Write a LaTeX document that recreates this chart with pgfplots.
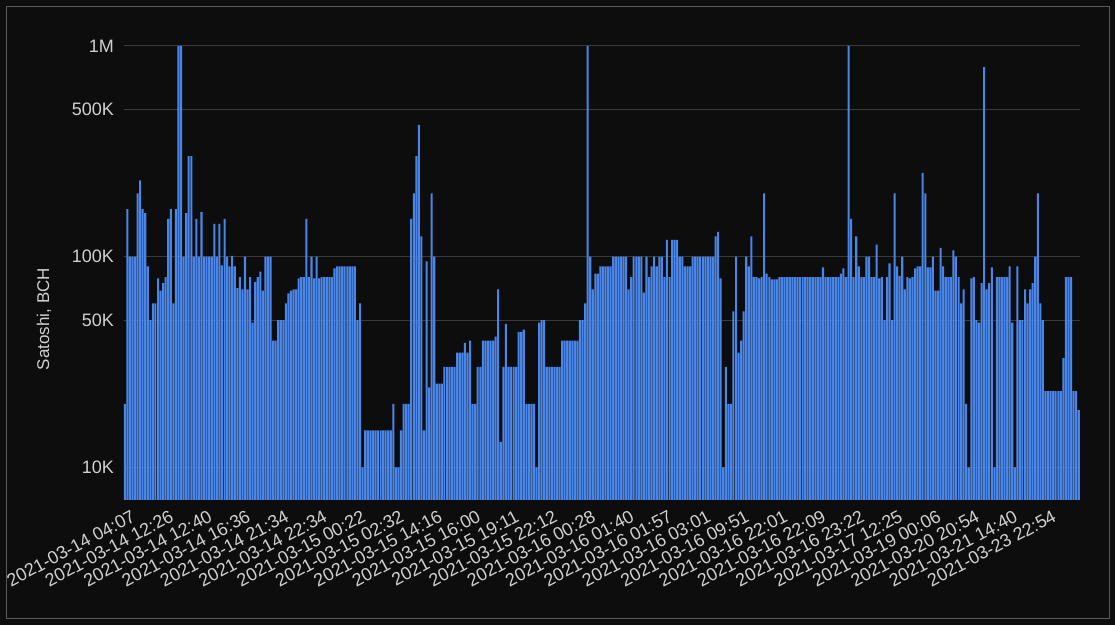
\documentclass[border=0pt]{standalone}
\usepackage{fontspec}
\setmainfont{Liberation Sans}
\usepackage{pgfplots}
\usepackage{pgfplotstable}
\pgfplotsset{compat=1.18}
\definecolor{bg}{HTML}{0D0D0D}
\definecolor{framec}{HTML}{5A5A5A}
\definecolor{gridc}{HTML}{3A3A3A}
\definecolor{txt}{HTML}{D0D0D0}
\definecolor{barc}{HTML}{4A86E8}

% values in thousands of satoshi, one per bar
\pgfplotstableread{
v
20
168
100
100
100
200
230
168
161
90
50
60
60
79
69
75
80
151
168
60
168
1000
1000
100
161
300
300
100
151
100
163
100
100
100
100
143
100
143
91
151
100
90
101
90
71
80
70
100
70
80
48.6
76
80
85
69
100
100
100
40
40
50
50
50
60
67
69
70
70
79
80
80
151
80
100
79
100
79
80
80
80
80
80
88
90
90
90
90
90
90
90
90
50
60
10
15
15
15
15
15
15
15
15
15
15
15
20
10
10
15
20
20
20
151
200
300
422
125
15
95
24
200
100
25
25
25
30
30
30
30
30
35
35
35
39
35
40
20
20
30
30
40
40
40
40
40
41.7
70
13.2
30
48
30
30
30
30
44
44
45
20
20
20
20
10
48.6
50
50
30
30
30
30
30
30
40
40
40
40
40
40
40
50
50
60
1000
100
70
83
83
90
90
90
90
90
100
100
100
100
100
100
70
80
100
100
100
100
67.5
100
80
90
100
90
100
100
80
120
80
120
120
120
100
100
90
90
90
100
100
100
100
100
100
100
100
100
125
131
79
10
30
20
20
55
100
35
40
55
100
90
125
80
80
79
80
200
83
80
78
78
78
80
80
80
80
80
80
80
80
80
80
80
80
80
80
80
80
80
89
80
80
80
80
80
80
83
88
80
1000
151
80
125
90
80
80
100
100
80
80
114
79
80
50
80
93
50
200
90
81
100
70
80
79
80
88
90
90
250
200
89
89
100
69
69
110
90
80
80
80
107
100
80
60
70
20
10
79
80
50
48.6
75
795
70
75
89
10
80
80
80
80
80
90
48.6
10
90
50
50
70
60
70
75
100
200
60
50
23
23
23
23
23
23
23
33
80
80
80
23
23
18.7
}\datatable

\begin{document}
\begin{tikzpicture}
\fill[bg] (0,0) rectangle (1115pt,625pt);
\draw[framec, line width=1pt] (6.5pt,6.5pt) rectangle (1109.5pt,618.5pt);
\begin{axis}[
  at={(123.5pt,125pt)}, anchor=south west,
  scale only axis, width=956.5pt, height=454pt,
  ymode=log, ymin=7000, ymax=1000000,
  xmin=-0.5, xmax=373.5,
  axis line style={draw=none},
  major tick length=0pt, minor tick length=0pt,
  ytick={10000,50000,100000,500000,1000000},
  yticklabels={10K,50K,100K,500K,1M},
  yminorticks=false,
  ymajorgrids, grid style={gridc, line width=1pt},
  xtick={0,15,...,360},
  xticklabels={2021-03-14 04:07,2021-03-14 12:26,2021-03-14 12:40,2021-03-14 16:36,2021-03-14 21:34,2021-03-14 22:34,2021-03-15 00:22,2021-03-15 02:32,2021-03-15 14:16,2021-03-15 16:00,2021-03-15 19:11,2021-03-15 22:12,2021-03-16 00:28,2021-03-16 01:40,2021-03-16 01:57,2021-03-16 03:01,2021-03-16 09:51,2021-03-16 22:01,2021-03-16 22:09,2021-03-16 23:22,2021-03-17 12:25,2021-03-19 00:06,2021-03-20 20:54,2021-03-21 14:40,2021-03-23 22:54},
  tick label style={font=\fontsize{18}{20}\selectfont, text=txt, inner sep=0pt},
  yticklabel style={anchor=east, xshift=-9.5pt},
  xticklabel style={anchor=east, xshift=9pt, yshift=-15pt, rotate=28},
]
\addplot[ybar, bar width=0.8, bar shift=0pt, fill=barc, draw=none]
  table[x expr=\coordindex, x index=0, y index=0, y expr=\thisrowno{0}*1000] {\datatable};
\end{axis}
\node[rotate=90, text=txt, font=\fontsize{17}{20}\selectfont] at (44pt,306pt) {Satoshi, BCH};
\pgfresetboundingbox
\path[use as bounding box] (0,0) rectangle (1115pt,625pt);
\end{tikzpicture}
\end{document}
